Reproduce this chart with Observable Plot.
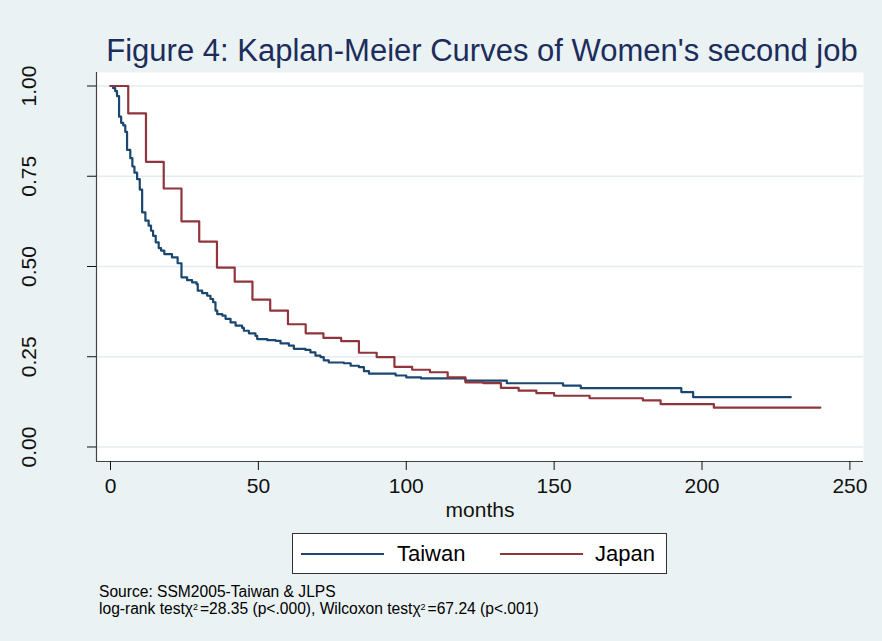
<!DOCTYPE html>
<html>
<head>
<meta charset="utf-8">
<script src="https://cdn.jsdelivr.net/npm/d3@7"></script>
<script src="https://cdn.jsdelivr.net/npm/@observablehq/plot@0.6"></script>
<style>
  html, body { margin: 0; padding: 0; background: #eaf2f3; }
  #wrap { position: relative; width: 882px; height: 641px; background: #eaf2f3; overflow: hidden;
          font-family: 'Liberation Sans', Arial, sans-serif; }
  #title { position: absolute; left: 82px; width: 800px; top: 35px; text-align: center;
           font-size: 31px; line-height: 31px; color: #1c2d5c; white-space: nowrap; }
  #chart { position: absolute; left: 0; top: 62px; }
  #legend { position: absolute; left: 292px; top: 533px; width: 375px; height: 41px; box-sizing: border-box;
            border: 1px solid #333; background: #fff; }
  #legend .ln { position: absolute; height: 2px; top: 19px; width: 83px; }
  #legend .lb { position: absolute; top: 9px; font-size: 22px; line-height: 22px; color: #000; white-space: nowrap; }
  #caption { position: absolute; left: 99px; top: 583px; font-size: 15.6px; line-height: 17px; color: #000; white-space: nowrap; }
  #caption sup { font-size: 9px; vertical-align: 4px; line-height: 0; margin-right: 2px; }
</style>
</head>
<body>
<div id="wrap">
  <div id="title">Figure 4: Kaplan-Meier Curves of Women's second job</div>
  <div id="chart"></div>
  <div id="legend"></div>
  <div id="caption"></div>
</div>
<script>
// ---- data ----
const seriesNames = ["Taiwan", "Japan"];
const seriesColors = ["#1a476f", "#90353b"];

const twTime = [0, 0.9, 1.6, 2.2, 2.9, 3.6, 4.3, 5, 5.6, 6.7, 7.4, 8.1, 9, 9.9, 10.7, 11.8, 12.9, 13.7, 14.4, 15.3,
  16.3, 17.1, 18.2, 20.8, 22.7, 24.0, 25.9, 27.6, 29.1, 29.5, 31.0, 32.7, 33.8, 34.7, 35.5, 36.1, 37.8, 38.9, 40.6,
  42.3, 44.5, 45.1, 46.8, 49.0, 49.6, 53.0, 55.8, 57.5, 60.3, 62.0, 65.9, 67.6, 69.3, 71.0, 72.1, 73.8, 78.9, 81.2,
  84.0, 85.7, 87.4, 96.4, 100, 105, 120, 134, 153, 159, 193, 197, 230];
const twSurv = [1.0, 0.994, 0.986, 0.972, 0.915, 0.898, 0.891, 0.873, 0.823, 0.800, 0.777, 0.760, 0.742, 0.713, 0.650,
  0.627, 0.613, 0.599, 0.585, 0.567, 0.551, 0.544, 0.534, 0.525, 0.509, 0.470, 0.462, 0.456, 0.451, 0.433, 0.426,
  0.419, 0.410, 0.401, 0.378, 0.368, 0.364, 0.355, 0.345, 0.336, 0.330, 0.322, 0.315, 0.308, 0.299, 0.296, 0.294,
  0.287, 0.281, 0.272, 0.269, 0.262, 0.253, 0.249, 0.240, 0.234, 0.232, 0.225, 0.221, 0.210, 0.203, 0.198, 0.193,
  0.190, 0.184, 0.1765, 0.170, 0.163, 0.152, 0.138, 0.138];

const jpTime = [0, 6, 12, 18, 24, 30, 36, 42, 48, 54, 60, 66, 72, 78, 84, 90, 96, 102, 108, 114, 120, 126, 132, 138,
  144, 150, 162, 180, 186, 204, 240];
const jpSurv = [1.0, 0.924, 0.790, 0.716, 0.625, 0.569, 0.497, 0.458, 0.408, 0.378, 0.340, 0.315, 0.302, 0.293, 0.261,
  0.249, 0.222, 0.214, 0.207, 0.193, 0.179, 0.177, 0.164, 0.156, 0.149, 0.142, 0.135, 0.129, 0.119, 0.109, 0.109];

const xTicks = [0, 50, 100, 150, 200, 250];
const yTicks = [0, 0.25, 0.5, 0.75, 1];
const xLabel = "months";
const sourceText = "Source: SSM2005-Taiwan & JLPS";
const testText = ["log-rank test", "χ", "2", "=28.35 (p<.000), Wilcoxon test", "χ", "2", "=67.24 (p<.001)"];

// ---- build ----
const tw = twTime.map((t, i) => ({t, s: twSurv[i]}));
const jp = jpTime.map((t, i) => ({t, s: jpSurv[i]}));
const xDom = [-4.73, 254.6];
const yDom = [-0.0402, 1.0374];
const font = "'Liberation Sans', Arial, sans-serif";

const chart = Plot.plot({
  width: 882,
  height: 463,
  marginLeft: 96,
  marginRight: 19,
  marginTop: 10,
  marginBottom: 64,
  x: {domain: xDom},
  y: {domain: yDom},
  style: {background: "transparent", fontFamily: font, overflow: "visible"},
  marks: [
    Plot.frame({fill: "white", stroke: null}),
    Plot.gridY(yTicks, {stroke: "#e4ecef", strokeOpacity: 1, strokeWidth: 1.6}),
    Plot.ruleX([xDom[0]], {stroke: "#444", strokeWidth: 1.2}),
    Plot.ruleY([yDom[0]], {stroke: "#444", strokeWidth: 1.2}),
    Plot.axisX(xTicks, {tickSize: 9, tickPadding: 8, fontSize: 21, label: null, color: "#111", tickFormat: d => String(d)}),
    Plot.axisY(yTicks, {tickSize: 9, tickFormat: () => "", label: null, color: "#111"}),
    Plot.text(yTicks, {x: xDom[0], y: d => d, text: d => d.toFixed(2), rotate: -90, dx: -61,
      lineAnchor: "bottom", textAnchor: "middle", fontSize: 21, fill: "#111"}),
    Plot.text([xLabel], {frameAnchor: "bottom", dy: 55, lineAnchor: "bottom", fontSize: 21, fill: "#111"}),
    Plot.line(tw, {x: "t", y: "s", curve: "step-after", stroke: seriesColors[0], strokeWidth: 2.2}),
    Plot.line(jp, {x: "t", y: "s", curve: "step-after", stroke: seriesColors[1], strokeWidth: 2.2})
  ]
});
document.getElementById("chart").appendChild(chart);

// legend
const leg = document.getElementById("legend");
const legPos = [{line: 8, label: 104}, {line: 207, label: 302}];
seriesNames.forEach((name, i) => {
  const ln = document.createElement("div");
  ln.className = "ln";
  ln.style.left = legPos[i].line + "px";
  ln.style.background = seriesColors[i];
  leg.appendChild(ln);
  const lb = document.createElement("div");
  lb.className = "lb";
  lb.style.left = legPos[i].label + "px";
  lb.textContent = name;
  leg.appendChild(lb);
});

// caption
const cap = document.getElementById("caption");
const l1 = document.createElement("div");
l1.textContent = sourceText;
cap.appendChild(l1);
const l2 = document.createElement("div");
testText.forEach((seg, i) => {
  if (seg === "2") {
    const s = document.createElement("sup");
    s.textContent = seg;
    l2.appendChild(s);
  } else {
    l2.appendChild(document.createTextNode(seg));
  }
});
cap.appendChild(l2);
</script>
</body>
</html>
